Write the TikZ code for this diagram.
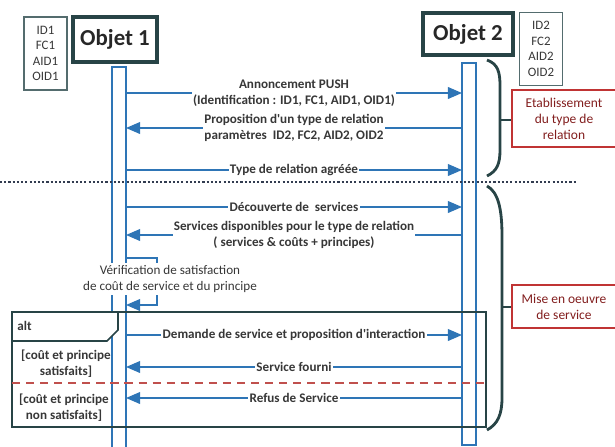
\documentclass[tikz,border=0pt]{standalone}
\usepackage{fontspec}
\setmainfont{Carlito}
\usepackage{tikz}
\usetikzlibrary{arrows.meta,positioning,calc}
\definecolor{lifeBlue}{RGB}{46,117,182}
\definecolor{objTeal}{RGB}{40,68,70}
\definecolor{idTeal}{RGB}{84,108,110}
\definecolor{textGray}{RGB}{55,55,55}
\definecolor{phaseRed}{RGB}{192,52,52}
\definecolor{phaseText}{RGB}{130,30,30}
\definecolor{altRed}{RGB}{192,80,77}
\definecolor{sepNavy}{RGB}{50,60,80}

\begin{document}
\begin{tikzpicture}[
            x=0.03cm, y=-0.03cm,
            obj/.style={rectangle, draw=objTeal, line width=2.6pt, font=\fontsize{19.5}{22}\selectfont\bfseries, text=textGray!70!black},
            ids/.style={rectangle, draw=idTeal, line width=1.4pt, align=center, font=\fontsize{11}{13.2}\selectfont, text=textGray, minimum width=1.3cm, minimum height=2.18cm},
            life/.style={draw=lifeBlue, line width=1.2pt},
            msg/.style={draw=lifeBlue, line width=1.3pt, -{Triangle[length=12pt,width=10pt]}},
            lbl/.style={fill=white, align=center, inner sep=1pt, font=\fontsize{11.2}{13.6}\selectfont\bfseries, text=textGray},
            guard/.style={align=center, inner sep=1pt, font=\fontsize{11.2}{13.6}\selectfont\bfseries, text=textGray},
            phase/.style={rectangle, draw=phaseRed, line width=1.2pt, align=center, text=phaseText, font=\fontsize{11.5}{13.6}\selectfont, minimum width=3.12cm},
            brace/.style={draw=objTeal, line width=2.4pt},
            frame/.style={draw=objTeal, line width=1.4pt}
        ]
            \useasboundingbox (0,0) rectangle (615,446);

            % objects
            \node[ids] (id1) at (45.5,53.5) {ID1\\FC1\\AID1\\OID1};
            \node[obj, minimum width=2.52cm, minimum height=1.35cm] (obj1) at (115,39.5) {Objet 1};
            \node[obj, minimum width=2.7cm, minimum height=1.26cm] (obj2) at (468,34) {Objet 2};
            \node[ids] (id2) at (541,49) {ID2\\FC2\\AID2\\OID2};

            % lifelines
            \draw[life] (112,67) rectangle (126,452);
            \draw[life] (462,63) rectangle (476,445);

            \foreach \m/\y in {ann/93, prop/128, agr/170, dec/207, dispo/235, dem/335, four/367, refus/398} {
                \coordinate (\m1) at (126,\y);
                \coordinate (\m2) at (462,\y);
            }

            \draw[msg] (ann1) -- node[lbl] {Annoncement PUSH\\(Identification : ID1, FC1, AID1, OID1)} (ann2);
            \draw[msg] (prop2) -- node[lbl] {Proposition d\textquotesingle un type de relation\\paramètres~~ID2, FC2, AID2, OID2} (prop1);
            \draw[msg] (agr1) -- node[lbl] {Type de relation agréée} (agr2);

            \draw[sepNavy, line width=1.1pt, dash pattern=on 1.8pt off 1.8pt] (0,182) -- (576,182);

            \draw[msg] (dec1) -- node[lbl] {Découverte de~~services} (dec2);
            \draw[msg] (dispo2) -- node[lbl] {Services disponibles pour le type de relation\\( services \& coûts + principes)} (dispo1);

            % self check
            \coordinate (verif1) at (126,258);
            \coordinate (verif2) at (126,305);
            \draw[msg] (verif1) -- ++(31,0) -- ++(0,47) -- (verif2);
            \node[lbl, font=\fontsize{11.2}{14.4}\selectfont, inner sep=2pt] (verif) at (170,279) {Vérification de satisfaction\\de coût de service et du principe};

            % alt fragment
            \draw[frame] (12,312) rectangle (486,427);
            \draw[frame, fill=white] (12,312) -- (118,312) -- (118,330) -- (107,341) -- (12,341) -- cycle;
            \node[guard, anchor=west] (alt) at (16,326) {alt};
            \node[guard] (sat) at (66,364) {[coût et principe\\satisfaits]};
            \node[guard] (nonsat) at (64,408) {[coût et principe\\non satisfaits]};
            \draw[altRed, line width=1.8pt, dash pattern=on 7pt off 5pt] (12,383) -- (486,383);

            \draw[msg] (dem1) -- node[lbl] {Demande de service et proposition d\textquotesingle interaction} (dem2);
            \draw[msg] (four2) -- node[lbl] {Service fourni} (four1);
            \draw[msg] (refus2) -- node[lbl] {Refus de Service} (refus1);

            % phases
            \node[phase, minimum height=1.71cm] (etab) at (564,118.5) {Etablissement\\du type de\\relation};
            \node[phase, minimum height=1.29cm] (mise) at (564,306.5) {Mise en oeuvre\\de service};

            \draw[brace] (487,60) .. controls (498,64) and (500,72) .. (500,86) -- (500,150) .. controls (500,164) and (497,171) .. (487,176);
            \coordinate (tip1) at (500,120);
            \draw[brace] (tip1) -- (tip1 -| etab.west);
            \draw[brace] (487,186) .. controls (498,192) and (502,208) .. (502,236) -- (502,398) .. controls (502,414) and (498,424) .. (487,430);
            \coordinate (tip2) at (502,307);
            \draw[brace] (tip2) -- (tip2 -| mise.west);
\end{tikzpicture}
\end{document}
